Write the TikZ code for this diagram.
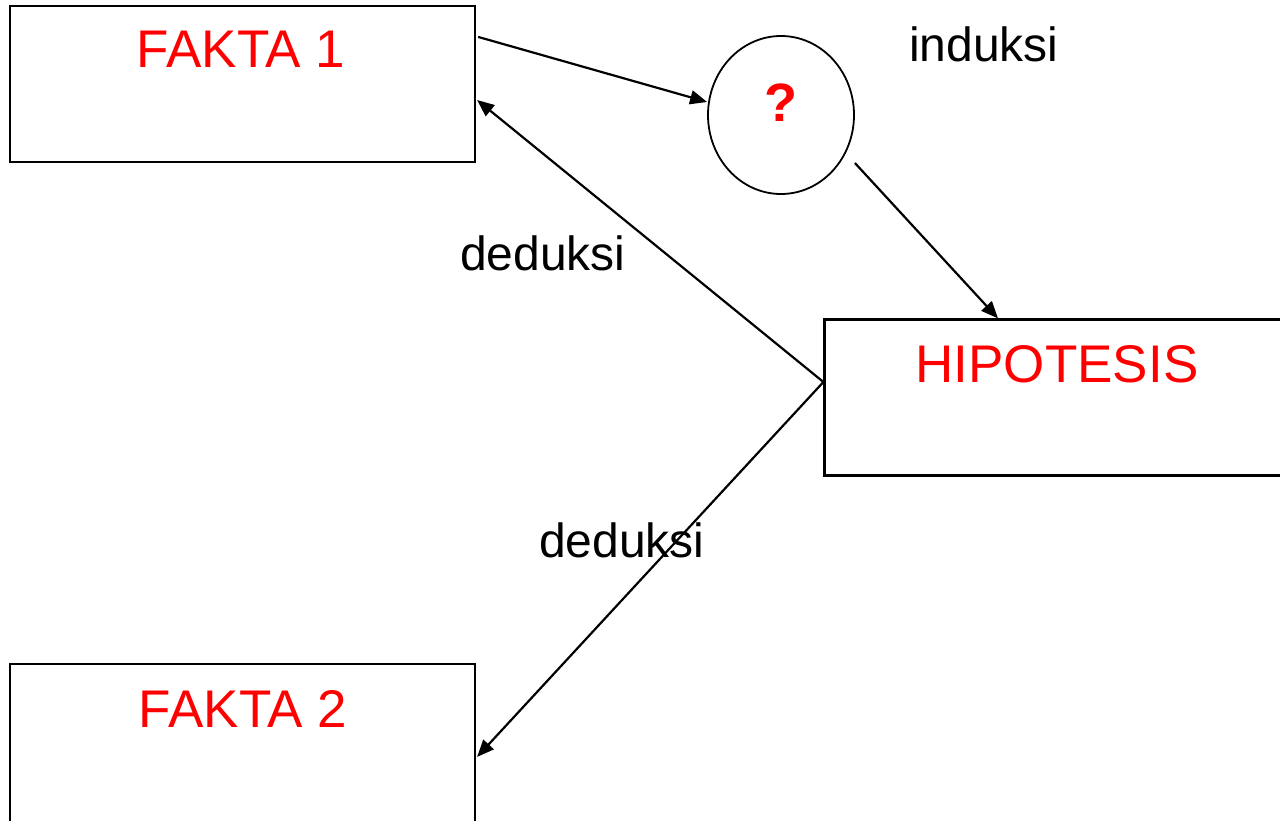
\documentclass[tikz,border=0pt]{standalone}
\usepackage{fontspec}
\setmainfont{Liberation Sans}
\usetikzlibrary{arrows.meta,calc,shapes.geometric}
\definecolor{hred}{RGB}{255,0,0}
\tikzset{
  box/.style={draw=black, line width=2.2pt, minimum width=465pt, minimum height=156pt, inner sep=0pt},
  title/.style={text=hred, anchor=base, inner sep=0pt, font=\fontsize{53}{60}\selectfont},
  lbl/.style={text=black, anchor=base west, inner sep=0pt, font=\fontsize{48}{54}\selectfont},
  conn/.style={line width=2.2pt, -{Triangle[length=17pt,width=14pt]}},
  bubble/.style={draw=black, line width=1.8pt, ellipse, minimum width=146pt, minimum height=158pt, inner sep=0pt}
}
\begin{document}
\begin{tikzpicture}[x=1pt,y=-1pt]
  \useasboundingbox (0,0) rectangle (1280,821);
  \clip (0,0) rectangle (1280,821);

  % boxes
  \node[box] (f1) at (242.5,84) {};
  \node[box] (hyp) at (1057,397.5) {};
  \node[box, minimum height=170pt] (f2) at (242.5,749) {};
  \node[bubble] (q) at (781,115) {};

  % box titles
  \node[title] (t1) at (241,68) {FAKTA 1};
  \node[title] (th) at (1057,382) {HIPOTESIS};
  \node[title] (t2) at (243,727) {FAKTA 2};
  \node[title, font=\fontsize{54}{60}\selectfont\bfseries] (tq) at (781,122) {?};

  % edge labels
  \node[lbl] (lind) at (909,62) {induksi};
  \node[lbl] (ld1) at (460,270) {deduksi};
  \node[lbl] (ld2) at (539,557) {deduksi};

  % connectors
  \draw[conn] ($(f1.north east)+(2,32)$) -- ($(q.west)+(0,-13)$);
  \draw[conn] ($(q.east)+(0,48)$) -- ($(hyp.north)+(-59,0)$);
  \draw[conn] ($(hyp.west)+(0,-15.5)$) -- ($(f1.east)+(1,16)$);
  \draw[conn] ($(hyp.west)+(0,-15.5)$) -- ($(f2.north east)+(1,94)$);
\end{tikzpicture}
\end{document}
